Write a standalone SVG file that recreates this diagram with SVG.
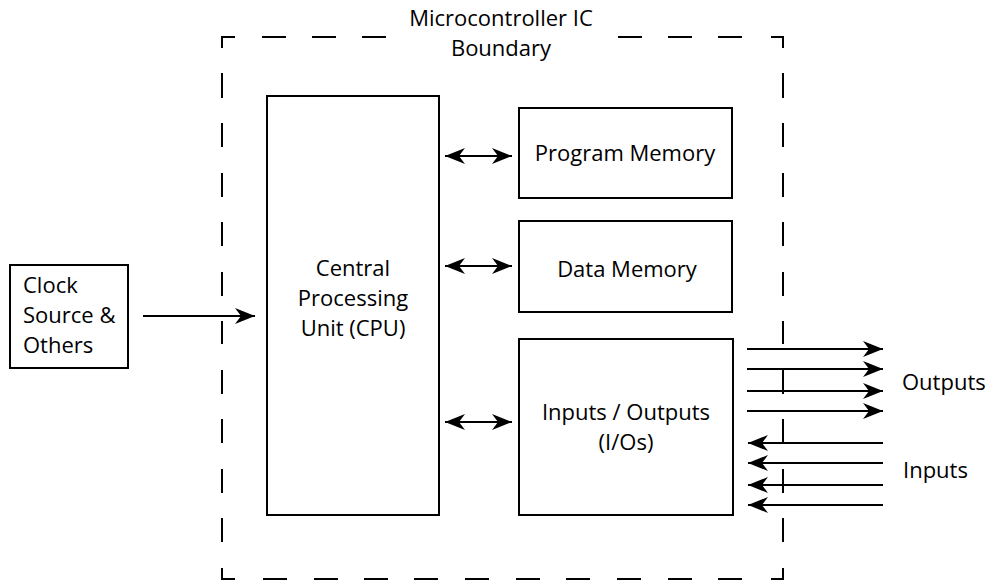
<svg xmlns="http://www.w3.org/2000/svg" width="991" height="582" viewBox="0 0 991 582">
<defs>
<style>
text{font-family:"Open Sans","Liberation Sans",sans-serif;font-size:22px;fill:#000}
.c{text-anchor:middle}
.box{fill:#fff;stroke:#000;stroke-width:2}
.ln{fill:none;stroke:#000;stroke-width:2}
.bd{fill:none;stroke:#000;stroke-width:2}
</style>
<marker id="ah" viewBox="-20 -9 20 18" refX="0" refY="0" markerWidth="20" markerHeight="18" markerUnits="userSpaceOnUse" orient="auto-start-reverse">
<path d="M0,0 L-20,-8 L-14,0 L-20,8 Z" fill="#000"/>
</marker>
<marker id="ah2" viewBox="-20 -9 20 18" refX="0" refY="0" markerWidth="20" markerHeight="18" markerUnits="userSpaceOnUse" orient="auto-start-reverse">
<path d="M0,0 L-20,-8 L-14,0 L-20,8 Z" fill="#000"/>
</marker>
</defs>
<rect width="991" height="582" fill="#fff"/>
<g id="boundary">
<path class="bd" d="M222,48 V37 H235 M771,37 H783 V48 M222,568 V579 H235 M771,579 H783 V568"/>
<path class="bd" d="M262,37 H286 M312,37 H336 M362,37 H386 M618,37 H642 M668,37 H692 M718,37 H742"/>
<path class="bd" d="M263,579 H287 M314,579 H338 M364,579 H388 M414,579 H438 M465,579 H489 M516,579 H540 M566,579 H590 M617,579 H641 M668,579 H692 M718,579 H742"/>
<path class="bd" d="M222,73 V98 M222,123 V147 M222,173 V197 M222,222 V246 M222,272 V296 M222,321 V344 M222,370 V394 M222,419 V443 M222,469 V493 M222,518 V542"/>
<path class="bd" d="M783,73 V98 M783,123 V147 M783,173 V197 M783,222 V246 M783,272 V296 M783,321 V344 M783,370 V394 M783,419 V443 M783,469 V493 M783,518 V542"/>
<text class="c" x="501" y="26">Microcontroller IC</text>
<text class="c" x="501" y="56">Boundary</text>
</g>
<g id="clock">
<rect class="box" x="10" y="265" width="118" height="103"/>
<text x="23" y="293">Clock</text>
<text x="23" y="323">Source &amp;</text>
<text x="23" y="353">Others</text>
</g>
<g id="cpu">
<rect class="box" x="267" y="96" width="172" height="419"/>
<text class="c" x="353" y="276">Central</text>
<text class="c" x="353" y="306">Processing</text>
<text class="c" x="353" y="336">Unit (CPU)</text>
</g>
<g id="program-memory">
<rect class="box" x="519" y="108" width="213" height="90"/>
<text class="c" x="625" y="161">Program Memory</text>
</g>
<g id="data-memory">
<rect class="box" x="519" y="221" width="213" height="91"/>
<text class="c" x="627" y="277">Data Memory</text>
</g>
<g id="io">
<rect class="box" x="519" y="339" width="214" height="176"/>
<text class="c" x="626" y="420">Inputs / Outputs</text>
<text class="c" x="626" y="450">(I/Os)</text>
</g>
<g id="outputs-label"><text x="902" y="390">Outputs</text></g>
<g id="inputs-label"><text x="903" y="478">Inputs</text></g>
<g id="connectors">
<line class="ln" x1="143" y1="316" x2="255" y2="316" marker-end="url(#ah)"/>
<line class="ln" x1="445" y1="156" x2="512" y2="156" marker-start="url(#ah2)" marker-end="url(#ah2)"/>
<line class="ln" x1="445" y1="266" x2="512" y2="266" marker-start="url(#ah2)" marker-end="url(#ah2)"/>
<line class="ln" x1="445" y1="422" x2="512" y2="422" marker-start="url(#ah2)" marker-end="url(#ah2)"/>
<line class="ln" x1="747" y1="349" x2="883" y2="349" marker-end="url(#ah)"/>
<line class="ln" x1="747" y1="369" x2="883" y2="369" marker-end="url(#ah)"/>
<line class="ln" x1="747" y1="391" x2="883" y2="391" marker-end="url(#ah)"/>
<line class="ln" x1="747" y1="411" x2="883" y2="411" marker-end="url(#ah)"/>
<line class="ln" x1="883" y1="443" x2="748" y2="443" marker-end="url(#ah)"/>
<line class="ln" x1="883" y1="463" x2="748" y2="463" marker-end="url(#ah)"/>
<line class="ln" x1="883" y1="485" x2="748" y2="485" marker-end="url(#ah)"/>
<line class="ln" x1="883" y1="505" x2="748" y2="505" marker-end="url(#ah)"/>
</g>
</svg>
